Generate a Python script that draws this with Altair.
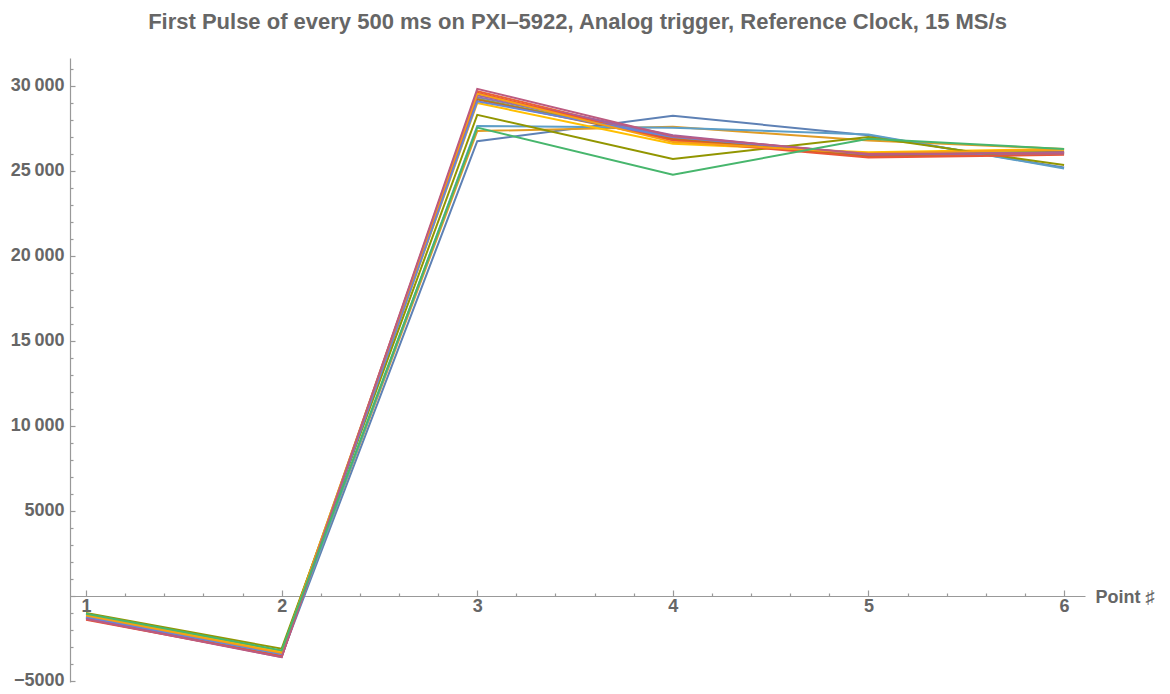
import altair as alt
import pandas as pd

points = [1, 2, 3, 4, 5, 6]
series_names = [f"s{i:02d}" for i in range(1, 16)]
colors = ["#5E81B5", "#E19C24", "#8FB032", "#EB6235", "#8778B3", "#C56E1A",
          "#5D9EC7", "#FFBF00", "#A5609D", "#929600", "#E95536", "#6685D9",
          "#F89F13", "#BC5B80", "#47B66D"]

s01 = [-1200, -3500, 26750, 28250, 27100, 25200]
s02 = [-1150, -3350, 27350, 27600, 26800, 26300]
s03 = [-1050, -3250, 29250, 26950, 26000, 26150]
s04 = [-1350, -3550, 29700, 26900, 25850, 26000]
s05 = [-1300, -3550, 29350, 27050, 25950, 26050]
s06 = [-1250, -3450, 29200, 26850, 25900, 26100]
s07 = [-1200, -3450, 27650, 27550, 27150, 25150]
s08 = [-1100, -3300, 29000, 26600, 26100, 26300]
s09 = [-1300, -3600, 29450, 27100, 25950, 26100]
s10 = [-1000, -3100, 28300, 25700, 27000, 25350]
s11 = [-1400, -3550, 29600, 26800, 25800, 25950]
s12 = [-1250, -3400, 29100, 27000, 26000, 26050]
s13 = [-1150, -3350, 29550, 26700, 26050, 26250]
s14 = [-1350, -3600, 29830, 27050, 26000, 26050]
s15 = [-1050, -3200, 27550, 24780, 26900, 26300]

all_series = [s01, s02, s03, s04, s05, s06, s07, s08, s09, s10, s11, s12, s13, s14, s15]

rows = []
for name, vals in zip(series_names, all_series):
    for p, v in zip(points, vals):
        rows.append({"series": name, "point": p, "value": v})
df = pd.DataFrame(rows)

W, H = 1015, 624
y_min, y_max = -5059, 31647
x_min, x_max = 0.918, 6.107
zero_from_top = H * y_max / (y_max - y_min)

GRAY = "#666666"
AXIS = "#999999"
FONT = "Liberation Sans"

xscale = alt.Scale(domain=[x_min, x_max], nice=False, zero=False)
yscale = alt.Scale(domain=[y_min, y_max], nice=False, zero=False)

x_label_axis = alt.Axis(
    orient="bottom", offset=-(H - zero_from_top), values=points,
    domain=False, ticks=False, grid=False,
    labelFont=FONT, labelFontSize=18, labelFontWeight="bold", labelColor=GRAY,
    labelPadding=2, labelFlush=False,
    title="Point ♯", titleFont=FONT, titleFontSize=18, titleFontWeight="bold",
    titleColor=GRAY, titleX=W + 10, titleY=2, titleAlign="left",
    titleBaseline="middle", titleAngle=0,
)
y_label_axis = alt.Axis(
    orient="left", values=[-5000, 5000, 10000, 15000, 20000, 25000, 30000],
    domain=False, ticks=False, grid=False,
    labelFont=FONT, labelFontSize=18, labelFontWeight="bold", labelColor=GRAY,
    labelPadding=6, labelFlush=False,
    labelExpr="abs(datum.value) >= 10000 ? replace(format(datum.value, ','), ',', '\u2009') : format(datum.value, 'd')",
    title=None,
)

x_tick_vals = [round(1 + 0.2 * i, 1) for i in range(26)]
y_tick_vals = list(range(-5000, 32000, 1000))

x_tick_axis = alt.Axis(
    orient="top", offset=-zero_from_top, values=x_tick_vals,
    domain=True, domainColor=AXIS, domainWidth=1.2,
    ticks=True, tickColor=AXIS, tickWidth=1.2,
    tickSize={"condition": {"test": "abs(datum.value - round(datum.value)) < 0.01", "value": 6}, "value": 3},
    labels=False, grid=False, title=None,
)
y_tick_axis = alt.Axis(
    orient="right", offset=-W, values=y_tick_vals,
    domain=True, domainColor=AXIS, domainWidth=1.2,
    ticks=True, tickColor=AXIS, tickWidth=1.2,
    tickSize={"condition": {"test": "datum.value % 5000 === 0", "value": 5}, "value": 3},
    labels=False, grid=False, title=None,
)

color = alt.Color("series:N", scale=alt.Scale(domain=series_names, range=colors), legend=None)

lines = alt.Chart(df).mark_line(strokeWidth=2, clip=True).encode(
    x=alt.X("point:Q", scale=xscale, axis=x_label_axis),
    y=alt.Y("value:Q", scale=yscale, axis=y_label_axis),
    color=color,
    order=alt.Order("point:Q"),
)

ticks_layer = alt.Chart(df).mark_point(opacity=0).encode(
    x=alt.X("point:Q", scale=xscale, axis=x_tick_axis),
    y=alt.Y("value:Q", scale=yscale, axis=y_tick_axis),
)

chart = alt.layer(ticks_layer, lines).resolve_axis(
    x="independent", y="independent"
).properties(
    width=W, height=H,
    background="white",
    autosize=alt.AutoSizeParams(type="none"),
    padding={"left": 62, "top": 50, "right": 77, "bottom": 8},
    title=alt.TitleParams(
        "First Pulse of every 500 ms on PXI–5922, Analog trigger, Reference Clock, 15 MS/s",
        font=FONT, fontSize=22, fontWeight="bold", color=GRAY,
        anchor="middle", offset=24,
    ),
).configure_view(stroke=None, strokeWidth=0)

chart.save("out.html", embed_options={"renderer": "svg", "actions": False})
